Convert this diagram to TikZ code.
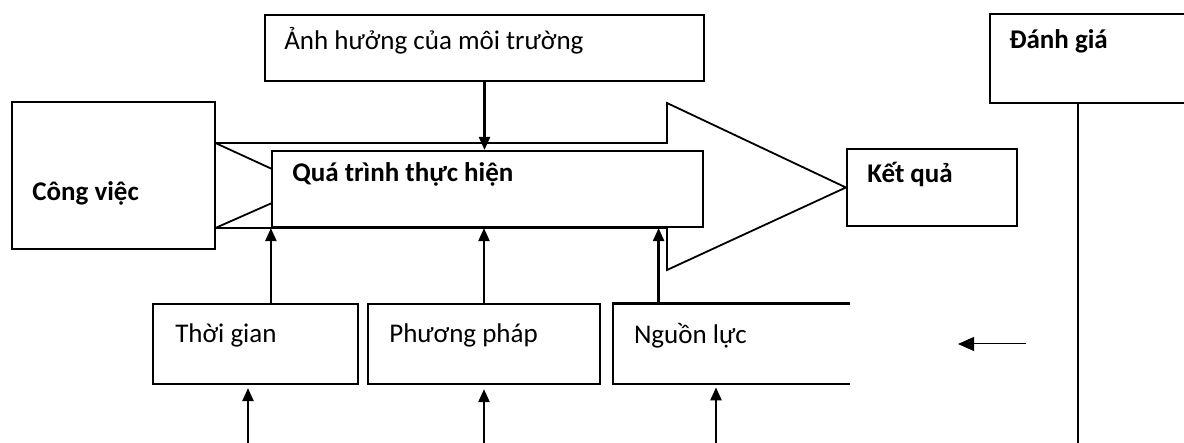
\documentclass[tikz,border=0pt]{standalone}
\usepackage{fontspec}
\setmainfont{Carlito}
\usepackage{tikz}
\usetikzlibrary{arrows.meta, positioning}

\begin{document}
\begin{tikzpicture}[
    x=0.5pt, y=-0.5pt,
    every node/.style={font=\fontsize{13.5}{16}\selectfont},
    box/.style={rectangle, draw=black, line width=1.1pt, fill=white, inner sep=0pt},
    txt/.style={anchor=base west, inner sep=0pt},
    bold/.style={font=\fontsize{13.5}{16}\selectfont\bfseries},
    arrow/.style={-{Triangle[length=6.5pt, width=5.5pt]}, line width=1.2pt},
    thinarrow/.style={-{Triangle[length=8pt, width=7pt]}, line width=0.5pt},
    shapeline/.style={line width=0.9pt, fill=white}
]
\useasboundingbox (0,0) rectangle (1184,443);

% Big arrow behind the process
\node[inner sep=0pt, minimum width=101.5pt, minimum height=73.5pt] (job) at (113.5,175.5) {};
\node[box, minimum width=85pt, minimum height=38.5pt] (result) at (932,187.5) {};
\draw[shapeline] (job.east |- 0,143) -- (667,143) -- (667,103) -- (result.west)
    -- (667,270) -- (667,228) -- (job.east |- 0,228);
\draw[line width=0.9pt] (job.east |- 0,143) -- (272,169);
\draw[line width=0.9pt] (job.east |- 0,228) -- (272,203);

% Boxes
\node[box, minimum width=219.5pt, minimum height=33pt] (env) at (484.5,48) {};
\node[box, minimum width=101.5pt, minimum height=73.5pt] (jobbox) at (job) {};
\node[box, minimum width=215.5pt, minimum height=38pt] (proc) at (487.5,189) {};
\node[box, minimum width=105pt, minimum height=44.5pt] (eval) at (1095,58.5) {};
\node[box, minimum width=102.5pt, minimum height=40pt] (time) at (255.5,344) {};
\node[box, minimum width=116pt, minimum height=40pt] (method) at (484,344) {};
\node[inner sep=0pt, minimum width=118.5pt, minimum height=40pt] (resource) at (731.5,344) {};
\draw[line width=1.1pt] (resource.north east) -- (resource.north west)
    -- (resource.south west) -- (resource.south east);

% Labels
\node[txt] (envt) at ([shift={(20,36)}]env.north west) {Ảnh hưởng của môi trường};
\node[txt, bold] (jobt) at ([shift={(21,100)}]jobbox.north west) {Công việc};
\node[txt, bold] (proct) at ([shift={(21,32)}]proc.north west) {Quá trình thực hiện};
\node[txt, bold] (resultt) at ([shift={(21,35)}]result.north west) {Kết quả};
\node[txt, bold] (evalt) at ([shift={(20,36)}]eval.north west) {Đánh giá};
\node[txt] (timet) at ([shift={(23,40)}]time.north west) {Thời gian};
\node[txt] (methodt) at ([shift={(22,40)}]method.north west) {Phương pháp};
\node[txt] (resourcet) at ([shift={(21,40)}]resource.north west) {Nguồn lực};

% Arrows into the process
\draw[arrow] (env.south) -- (env.south |- proc.north);
\draw[arrow] (time.north -| proc.south west) -- (proc.south west);
\draw[arrow] (method.north) -- (method.north |- proc.south);
\coordinate (resin) at ([xshift=23pt]resource.north west);
\draw[arrow] (resin) -- (resin |- proc.south);

% Arrows from below
\coordinate (timein) at (248,443);
\coordinate (methodin) at (484,443);
\coordinate (resourcein) at (716,443);
\draw[arrow, shorten >=1.5pt] (timein) -- (timein |- time.south);
\draw[arrow, shorten >=2pt] (methodin) -- (methodin |- method.south);
\draw[arrow, shorten >=1.5pt] (resourcein) -- (resourcein |- resource.south);

% Evaluation line and feedback
\coordinate (evalend) at (1078,443);
\draw[line width=1.1pt] (evalend |- eval.south) -- (evalend);
\coordinate (fbstart) at (1026,344);
\coordinate (fbend) at (958,344);
\draw[thinarrow] (fbstart) -- (fbend);

\end{tikzpicture}
\end{document}
